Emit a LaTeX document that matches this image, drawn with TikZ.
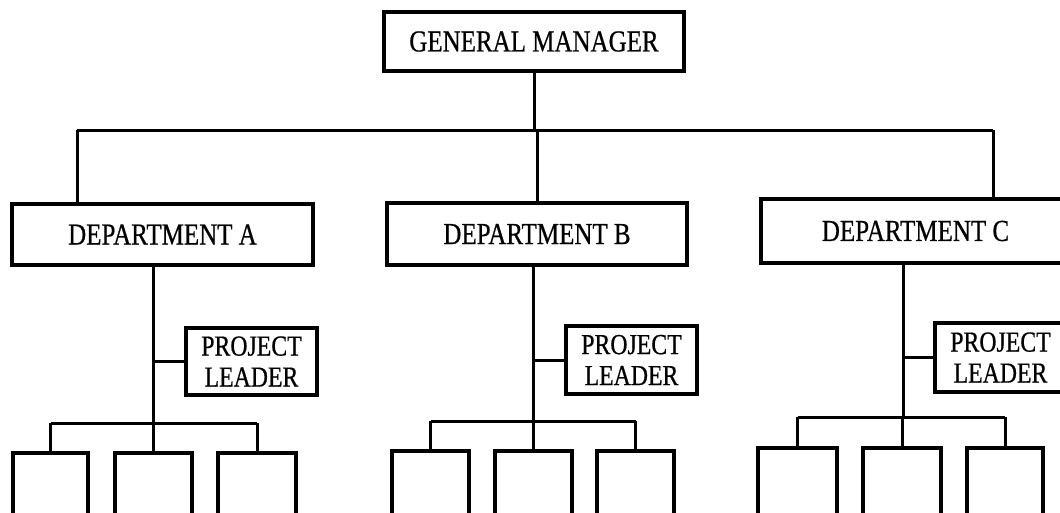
\documentclass[tikz,border=0pt]{standalone}
\usepackage{fontspec}
\setmainfont[FakeStretch=0.82,FakeBold=0.6]{Liberation Serif}
\begin{document}
\begin{tikzpicture}[x=1pt,y=-1pt,
  box/.style={draw,line width=3.2pt,inner sep=0pt,align=center},
  link/.style={line width=3pt},
  headfont/.style={font=\fontsize{30.5}{36}\selectfont},
  plfont/.style={font=\fontsize{29}{31}\selectfont}]
\useasboundingbox (0,0) rectangle (1060,512);
\clip (0,0) rectangle (1060,512);

% top level
\node[box,headfont,minimum width=300pt,minimum height=59pt] (gm) at (534,41.5) {GENERAL MANAGER};

% departments
\node[box,headfont,minimum width=301pt,minimum height=61pt] (da) at (162.5,234.5) {DEPARTMENT A};
\node[box,headfont,minimum width=300pt,minimum height=62pt] (db) at (537,234) {DEPARTMENT B};
\node[box,headfont,minimum width=309pt,minimum height=64pt] (dc) at (915.5,231) {DEPARTMENT C};

% project leaders
\node[box,plfont,minimum width=131pt,minimum height=67pt] (pla) at (251.5,361.5) {PROJECT\\LEADER};
\node[box,plfont,minimum width=131pt,minimum height=68pt] (plb) at (631.5,360) {PROJECT\\LEADER};
\node[box,plfont,minimum width=131pt,minimum height=69pt] (plc) at (1000.5,357.5) {PROJECT\\LEADER};

% team members
\node[box,minimum width=75pt,minimum height=72pt] (a1) at (50.5,489) {};
\node[box,minimum width=77pt,minimum height=72pt] (a2) at (153.5,489) {};
\node[box,minimum width=78pt,minimum height=72pt] (a3) at (257,489) {};
\node[box,minimum width=77pt,minimum height=74pt] (b1) at (430.5,488) {};
\node[box,minimum width=77pt,minimum height=74pt] (b2) at (533.5,488) {};
\node[box,minimum width=77pt,minimum height=74pt] (b3) at (635.5,488) {};
\node[box,minimum width=79pt,minimum height=77pt] (c1) at (797.5,486.5) {};
\node[box,minimum width=78pt,minimum height=77pt] (c2) at (902,486.5) {};
\node[box,minimum width=76pt,minimum height=77pt] (c3) at (1005,486.5) {};

% junction points
\coordinate (busa) at (77,130);
\coordinate (busc) at (993,130);
\coordinate (sa) at (153,423);
\coordinate (sb) at (533,421);
\coordinate (sc) at (903,417);

% general manager to departments
\draw[link] (gm.south) -- (gm.south |- busa);
\draw[link] (busa) -- (busc);
\draw[link] (busa) -- (busa |- da.north);
\draw[link] (db.north) -- (db.north |- busa);
\draw[link] (busc) -- (busc |- dc.north);

% department A
\draw[link] (sa |- da.south) -- (sa);
\draw[link] (pla.west) -- (pla.west -| sa);
\draw[link] (a1.north |- sa) -- (a3.north |- sa);
\draw[link] (a1.north) -- (a1.north |- sa);
\draw[link] (a2.north) -- (a2.north |- sa);
\draw[link] (a3.north) -- (a3.north |- sa);

% department B
\draw[link] (sb |- db.south) -- (sb);
\draw[link] (plb.west) -- (plb.west -| sb);
\draw[link] (b1.north |- sb) -- (b3.north |- sb);
\draw[link] (b1.north) -- (b1.north |- sb);
\draw[link] (b2.north) -- (b2.north |- sb);
\draw[link] (b3.north) -- (b3.north |- sb);

% department C
\draw[link] (sc |- dc.south) -- (sc);
\draw[link] (plc.west) -- (plc.west -| sc);
\draw[link] (c1.north |- sc) -- (c3.north |- sc);
\draw[link] (c1.north) -- (c1.north |- sc);
\draw[link] (c2.north) -- (c2.north |- sc);
\draw[link] (c3.north) -- (c3.north |- sc);
\end{tikzpicture}
\end{document}
